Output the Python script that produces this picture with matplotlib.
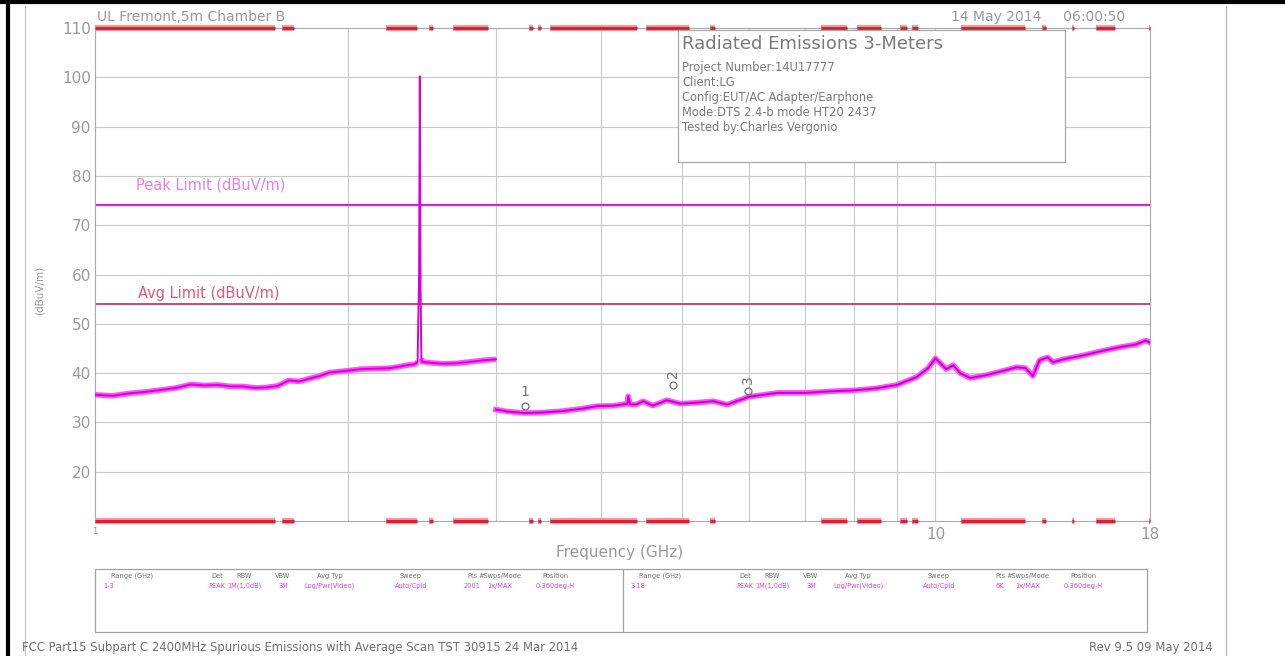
import matplotlib
matplotlib.use("Agg")
import matplotlib.pyplot as plt
import numpy as np
from matplotlib.lines import Line2D
from matplotlib.patches import Rectangle

# trace 1-3 GHz (GHz, dBuV/m)
f_low = [1.00, 1.05, 1.10, 1.15, 1.20, 1.25, 1.30, 1.35, 1.40, 1.45, 1.50, 1.55,
         1.60, 1.65, 1.70, 1.75, 1.80, 1.85, 1.90, 1.95, 2.00, 2.07, 2.15, 2.24,
         2.30, 2.35, 2.40, 2.42, 2.43, 2.435, 2.44, 2.445, 2.45, 2.50, 2.60, 2.70,
         2.80, 2.90, 3.00]
v_low = [35.6, 35.4, 35.9, 36.2, 36.6, 37.0, 37.7, 37.5, 37.6, 37.3, 37.3, 37.0,
         37.1, 37.4, 38.5, 38.3, 38.9, 39.4, 40.1, 40.3, 40.5, 40.8, 40.9, 41.0,
         41.3, 41.6, 41.8, 42.2, 60.0, 100.2, 57.0, 43.0, 42.3, 42.1, 41.9, 42.0,
         42.3, 42.6, 42.8]

# trace 3-18 GHz
f_high = [3.00, 3.10, 3.25, 3.40, 3.60, 3.80, 3.96, 4.15, 4.30, 4.31, 4.33, 4.40,
          4.49, 4.61, 4.79, 4.97, 5.20, 5.44, 5.65, 6.00, 6.50, 7.00, 7.50, 8.00,
          8.50, 9.00, 9.50, 9.80, 10.0, 10.3, 10.5, 10.7, 11.0, 11.5, 12.0, 12.5,
          12.8, 13.06, 13.3, 13.6, 13.8, 14.2, 15.0, 15.7, 16.5, 17.3, 17.8, 18.0]
v_high = [32.6, 32.2, 31.9, 32.0, 32.3, 32.8, 33.3, 33.4, 33.8, 35.3, 33.7, 33.6,
          34.3, 33.4, 34.5, 33.8, 34.0, 34.3, 33.6, 35.2, 36.0, 36.0, 36.3, 36.5,
          36.9, 37.6, 39.2, 41.0, 43.0, 40.8, 41.6, 40.0, 39.0, 39.6, 40.4, 41.2,
          41.0, 39.4, 42.6, 43.2, 42.2, 42.8, 43.6, 44.4, 45.2, 45.8, 46.6, 46.2]

peak_limit = 74
avg_limit = 54

# markers: freq, level, label
mk_f = [3.25, 4.87, 5.98]
mk_v = [33.3, 37.6, 36.4]
mk_lab = ["1", "2", "3"]

# red scan bars (start, end GHz)
bar_start = [1.0, 1.669, 2.219, 2.497, 2.667, 3.284, 3.366, 3.478, 4.525, 5.392,
             7.31, 8.066, 9.075, 9.38, 10.73, 13.39, 14.55, 15.53, 17.95]
bar_end = [1.637, 1.725, 2.416, 2.524, 2.935, 3.32, 3.394, 4.414, 5.091, 5.466,
           7.85, 8.614, 9.25, 9.53, 12.78, 13.54, 14.62, 16.35, 18.0]

y_ticks = [20, 30, 40, 50, 60, 70, 80, 90, 100, 110]
x_grid = [2, 3, 4, 5, 6, 7, 8, 9, 10]

W, H = 1285, 656
txt = "#999999"

fig = plt.figure(figsize=(W / 100, H / 100), dpi=100)
fig.patch.set_facecolor("white")

def fx(x):
    return x / W

def fy(y):
    return 1 - y / H

ax = fig.add_axes([fx(95), fy(521), fx(1150) - fx(95), fy(28) - fy(521)])
ax.set_xscale("log")
ax.set_xlim(1, 18)
ax.set_ylim(10, 110)

for s in ax.spines.values():
    s.set_color("#a8a8a8")
    s.set_linewidth(0.8)

ax.set_yticks(y_ticks)
ax.set_yticklabels([str(t) for t in y_ticks], color=txt, fontsize=11)
ax.tick_params(axis="y", length=0, pad=3)
ax.set_xticks([1, 10, 18])
ax.set_xticklabels(["1", "10", "18"], color=txt, fontsize=11)
ax.set_xticks([], minor=True)
ax.tick_params(axis="x", length=0, pad=4)
ax.get_xticklabels()[0].set_fontsize(6)

for t in y_ticks[:-1]:
    ax.axhline(t, color="#c8c8c8", lw=0.8, zorder=0)
for g in x_grid:
    ax.axvline(g, color="#c8c8c8", lw=0.8, zorder=0)

# scan bars top and bottom
for yb in (110, 10):
    ax.hlines([yb] * len(bar_start), bar_start, bar_end, colors="#f29aa2",
              lw=4.5, clip_on=False, zorder=3)
    ax.hlines([yb] * len(bar_start), bar_start, bar_end, colors="#d8203a",
              lw=2.2, clip_on=False, zorder=4)

# limit lines
ax.axhline(peak_limit, color="#e020d0", lw=1.6, zorder=2)
ax.axhline(avg_limit, color="#c02858", lw=1.2, zorder=2)
ax.text(1.12, peak_limit + 2.6, "Peak Limit (dBuV/m)", color="#e880dc",
        fontsize=10.5, va="bottom")
ax.text(1.125, avg_limit + 0.6, "Avg Limit (dBuV/m)", color="#e45878",
        fontsize=10.5, va="bottom")

# trace
fl = np.array(f_low)
vl = np.array(v_low)
band = np.where(vl > 50, np.nan, vl)
ax.plot(fl, band, color="#ff55ff", lw=4, solid_capstyle="butt", zorder=5)
ax.plot(fl, vl, color="#d800d8", lw=1.4, zorder=6)
ax.plot(f_high, v_high, color="#ff55ff", lw=4, zorder=5)
ax.plot(f_high, v_high, color="#c800c8", lw=1.4, zorder=6)

for f, v, lab in zip(mk_f, mk_v, mk_lab):
    ax.plot([f], [v], marker="o", ms=5, mfc="none", mec="#707070", mew=0.9, zorder=7)
    rot = 0 if lab == "1" else 90
    ax.text(f, v + 1.4, lab, color="#707070", fontsize=10, ha="center",
            va="bottom", rotation=rot, zorder=7)

ax.set_facecolor("white")

# y label
fig.text(fx(40), fy(290), "(dBuV/m)", rotation=90, color=txt, fontsize=7.5,
         ha="center", va="center")
fig.text(fx(620), fy(552), "Frequency (GHz)", color=txt, fontsize=11,
         ha="center", va="center")

# header
fig.text(fx(97), fy(17), "UL Fremont,5m Chamber B", color=txt, fontsize=10,
         ha="left", va="center")
fig.text(fx(1125), fy(17), "14 May 2014     06:00:50", color=txt, fontsize=10,
         ha="right", va="center")

# info box
fig.add_artist(Rectangle((fx(678), fy(162)), fx(1065) - fx(678), fy(30) - fy(162),
                         transform=fig.transFigure, facecolor="white",
                         edgecolor="#a8a8a8", lw=0.9, zorder=10))
fig.text(fx(682), fy(44), "Radiated Emissions 3-Meters", color="#7a7a7a",
         fontsize=13, ha="left", va="center", zorder=11)
info = ["Project Number:14U17777", "Client:LG", "Config:EUT/AC Adapter/Earphone",
        "Mode:DTS 2.4-b mode HT20 2437", "Tested by:Charles Vergonio"]
for i, line in enumerate(info):
    fig.text(fx(682), fy(68 + i * 14.8), line, color="#7a7a7a", fontsize=8.3,
             ha="left", va="center", zorder=11)

# settings table
fig.add_artist(Rectangle((fx(95), fy(632)), fx(1147) - fx(95), fy(569) - fy(632),
                         transform=fig.transFigure, facecolor="none",
                         edgecolor="#a0a0a0", lw=0.9))
fig.add_artist(Line2D([fx(623), fx(623)], [fy(569), fy(632)], color="#a0a0a0", lw=0.9))
heads = ["Range (GHz)", "Det", "RBW", "VBW", "Avg Typ", "Sweep", "Pts",
         "#Swps/Mode", "Position"]
head_x = [132, 217, 244, 283, 330, 411, 472, 500, 555]
row1 = ["1-3", "PEAK", "1M(1.0dB)", "3M", "Log/Pwr(Video)", "Auto/Cpld", "2001",
        "1x/MAX", "0-360deg-H"]
row2 = ["3-18", "PEAK", "1M(1.0dB)", "3M", "Log/Pwr(Video)", "Auto/Cpld", "6K",
        "1x/MAX", "0-360deg-H"]
for row, shift in ((row1, 0), (row2, 528)):
    for j, (h, v) in enumerate(zip(heads, row)):
        xh = head_x[j] + shift
        fig.text(fx(xh), fy(576), h, color="#707070", fontsize=4.8,
                 ha="center", va="center")
        if j == 0:
            fig.text(fx(103 + shift), fy(586), v, color="#e040e0", fontsize=4.8,
                     ha="left", va="center")
        else:
            fig.text(fx(xh), fy(586), v, color="#e040e0", fontsize=4.8,
                     ha="center", va="center")

# footer
fig.text(fx(22), fy(648), "FCC Part15 Subpart C 2400MHz Spurious Emissions with "
         "Average Scan TST 30915 24 Mar 2014", color="#707070", fontsize=8.4,
         ha="left", va="center")
fig.text(fx(1213), fy(648), "Rev 9.5 09 May 2014", color="#707070", fontsize=8.4,
         ha="right", va="center")

# page / cell borders
fig.add_artist(Line2D([0, 1], [fy(2), fy(2)], color="black", lw=3))
fig.add_artist(Line2D([fx(8), fx(8)], [0, fy(2)], color="black", lw=3))
fig.add_artist(Line2D([fx(25), fx(25)], [0, fy(6)], color="#c0c0c0", lw=0.8))
fig.add_artist(Line2D([fx(1226), fx(1226)], [0, fy(6)], color="#b0b0b0", lw=0.8))

fig.savefig("out.png", dpi=100, facecolor="white")
